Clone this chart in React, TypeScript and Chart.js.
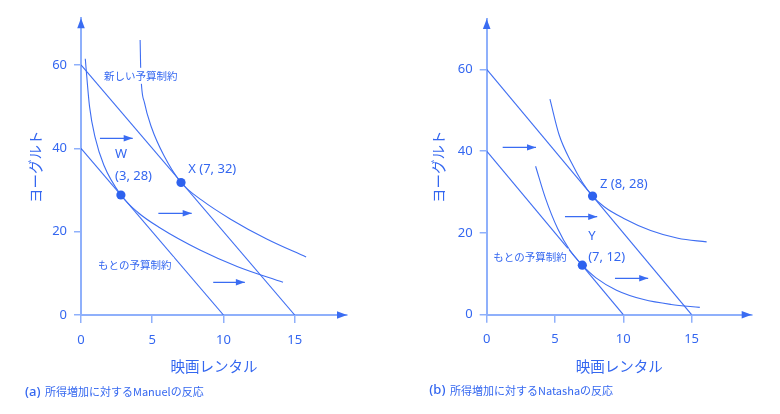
import React, { useEffect, useRef } from "react";
import { Chart, registerables } from "chart.js";

Chart.register(...registerables);

// ---------- shared axis data ----------
const xTickValues = [0, 5, 10, 15];
const yTickValues = [0, 20, 40, 60];
const xAxisTitle = "映画レンタル";
const yAxisTitle = "ヨーグルト";

// ---------- panel (a): Manuel ----------
const aOriginalBudget = [{ x: 0, y: 40 }, { x: 10, y: 0 }];
const aNewBudget = [{ x: 0, y: 60 }, { x: 15, y: 0 }];
const aCurveW = [
  { x: 0.3, y: 61.5 }, { x: 0.6, y: 50 }, { x: 1.0, y: 42.5 }, { x: 1.6, y: 36 },
  { x: 2.8, y: 28.8 }, { x: 4.0, y: 24.6 }, { x: 5.5, y: 21 }, { x: 8.35, y: 15.6 },
  { x: 11, y: 11.6 }, { x: 14.18, y: 7.85 },
];
const aCurveX = [
  { x: 4.15, y: 66 }, { x: 4.2, y: 58 }, { x: 4.45, y: 51 }, { x: 4.95, y: 45 },
  { x: 5.8, y: 38.4 }, { x: 7.02, y: 31.8 }, { x: 8.5, y: 27.5 }, { x: 10.5, y: 23 },
  { x: 13, y: 18.3 }, { x: 15.8, y: 13.9 },
];
const aPoints = [{ x: 2.8, y: 28.8 }, { x: 7.02, y: 31.8 }];
const aShiftArrows = [
  [{ x: 1.33, y: 42.4 }, { x: 3.63, y: 42.4 }],
  [{ x: 5.43, y: 24.4 }, { x: 7.77, y: 24.4 }],
  [{ x: 9.28, y: 7.85 }, { x: 11.5, y: 7.85 }],
];
const aLabels = [
  { text: "新しい予算制約", x: 1.61, y: 57.4, kind: "budget" },
  { text: "もとの予算制約", x: 1.19, y: 12.0, kind: "budget" },
  { text: "W", x: 2.39, y: 38.5, kind: "point" },
  { text: "(3, 28)", x: 2.39, y: 33.4, kind: "point" },
  { text: "X (7, 32)", x: 7.53, y: 35.0, kind: "point" },
];
const aCaptionTag = "(a)";
const aCaptionText = "所得増加に対するManuelの反応";

// ---------- panel (b): Natasha ----------
const bOriginalBudget = [{ x: 0, y: 40 }, { x: 10, y: 0 }];
const bNewBudget = [{ x: 0, y: 60 }, { x: 15, y: 0 }];
const bCurveY = [
  { x: 3.58, y: 36.3 }, { x: 4.3, y: 28.5 }, { x: 5.2, y: 21 }, { x: 6.1, y: 15.7 },
  { x: 7.0, y: 12.1 }, { x: 8.0, y: 9.0 }, { x: 9.5, y: 6.0 }, { x: 11.5, y: 3.7 },
  { x: 13.5, y: 2.5 }, { x: 15.6, y: 1.8 },
];
const bCurveZ = [
  { x: 4.63, y: 52.7 }, { x: 5.3, y: 44 }, { x: 6.2, y: 37.2 }, { x: 7.0, y: 32.4 },
  { x: 7.75, y: 29.0 }, { x: 8.6, y: 26.4 }, { x: 10, y: 23.6 }, { x: 12, y: 20.6 },
  { x: 14, y: 18.7 }, { x: 16.1, y: 17.8 },
];
const bPoints = [{ x: 7.75, y: 29.0 }, { x: 7.0, y: 12.1 }];
const bShiftArrows = [
  [{ x: 1.17, y: 40.9 }, { x: 3.61, y: 40.9 }],
  [{ x: 5.73, y: 23.96 }, { x: 8.09, y: 23.96 }],
  [{ x: 9.39, y: 8.9 }, { x: 11.82, y: 8.9 }],
];
const bLabels = [
  { text: "Z (8, 28)", x: 8.29, y: 32.0, kind: "point" },
  { text: "Y", x: 7.43, y: 19.07, kind: "point" },
  { text: "(7, 12)", x: 7.43, y: 14.0, kind: "point" },
  { text: "もとの予算制約", x: 0.48, y: 14.2, kind: "budget" },
];
const bCaptionTag = "(b)";
const bCaptionText = "所得増加に対するNatashaの反応";

// ---------- styles ----------
const TEXT = "#3467f0";
const LINE = "#3f6ef2";
const AXIS = "#8fb0fb";
const ARROW = "#3a6cf2";
const DOT = "#2e62ee";
const LATIN = "'Noto Sans', 'Noto Sans CJK JP', sans-serif";
const CJK = "'Noto Sans CJK JP', 'Noto Sans', sans-serif";

const panels = [
  {
    originalBudget: aOriginalBudget, newBudget: aNewBudget, curveLow: aCurveW, curveHigh: aCurveX,
    points: aPoints, arrows: aShiftArrows, labels: aLabels, tag: aCaptionTag, caption: aCaptionText,
    layout: { padTop: 18.3, padRight: 43, yAxisWidth: 81, xAxisHeight: 99, xMax: 18.67, yMax: 71.2, yTitlePad: 26.3, tagX: 25, capX: 45, capY: 392 },
  },
  {
    originalBudget: bOriginalBudget, newBudget: bNewBudget, curveLow: bCurveY, curveHigh: bCurveZ,
    points: bPoints, arrows: bShiftArrows, labels: bLabels, tag: bCaptionTag, caption: bCaptionText,
    layout: { padTop: 19, padRight: 28.3, yAxisWidth: 96.7, xAxisHeight: 99.3, xMax: 19.4, yMax: 72.3, yTitlePad: 39.3, tagX: 39.3, capX: 60, capY: 390.7 },
  },
];

function drawHead(ctx: CanvasRenderingContext2D, x0: number, y0: number, x1: number, y1: number, len: number, half: number, color: string) {
  const ang = Math.atan2(y1 - y0, x1 - x0);
  const bx = x1 - len * Math.cos(ang);
  const by = y1 - len * Math.sin(ang);
  const px = -Math.sin(ang) * half;
  const py = Math.cos(ang) * half;
  ctx.beginPath();
  ctx.moveTo(x1, y1);
  ctx.lineTo(bx + px, by + py);
  ctx.lineTo(bx - px, by - py);
  ctx.closePath();
  ctx.fillStyle = color;
  ctx.fill();
}

function makeOverlay(panel: any) {
  return {
    id: "overlay",
    afterDatasetsDraw(chart: any) {
      const ctx: CanvasRenderingContext2D = chart.ctx;
      const xs = chart.scales.x;
      const ys = chart.scales.y;
      ctx.save();
      chart.data.datasets.forEach((ds: any, i: number) => {
        if (ds.label !== "shift") return;
        const meta = chart.getDatasetMeta(i);
        const a = meta.data[0];
        const b = meta.data[meta.data.length - 1];
        drawHead(ctx, a.x, a.y, b.x, b.y, 9, 3.2, ARROW);
      });
      panel.labels.forEach((l: any) => {
        const px = xs.getPixelForValue(l.x);
        const py = ys.getPixelForValue(l.y);
        ctx.textAlign = "left";
        ctx.textBaseline = "middle";
        if (l.kind === "budget") {
          ctx.font = `10.5px ${CJK}`;
          const w = ctx.measureText(l.text).width;
          ctx.fillStyle = "#ffffff";
          ctx.fillRect(px - 2, py - 8, w + 4, 16);
        } else {
          ctx.font = `13px ${LATIN}`;
        }
        ctx.fillStyle = TEXT;
        ctx.fillText(l.text, px, py);
      });
      ctx.restore();
    },
    afterDraw(chart: any) {
      const ctx: CanvasRenderingContext2D = chart.ctx;
      const { left, right, top, bottom } = chart.chartArea;
      ctx.save();
      drawHead(ctx, left, bottom, right, bottom, 10, 3.8, ARROW);
      drawHead(ctx, left, bottom, left, top, 10, 3.8, ARROW);
      const L = panel.layout;
      ctx.textAlign = "left";
      ctx.textBaseline = "middle";
      ctx.fillStyle = TEXT;
      ctx.font = `500 13px ${LATIN}`;
      ctx.fillText(panel.tag, L.tagX, L.capY);
      ctx.font = `11px ${CJK}`;
      ctx.fillText(panel.caption, L.capX, L.capY);
      ctx.restore();
    },
  };
}

function buildConfig(panel: any): any {
  const L = panel.layout;
  const lineDs = (data: any[], extra: any = {}) => ({
    data,
    showLine: true,
    borderColor: LINE,
    borderWidth: 1.1,
    pointRadius: 0,
    pointHoverRadius: 0,
    fill: false,
    ...extra,
  });
  return {
    type: "scatter",
    data: {
      datasets: [
        {
          label: "points",
          data: panel.points,
          showLine: false,
          pointRadius: 4.6,
          pointBackgroundColor: DOT,
          pointBorderColor: DOT,
          pointBorderWidth: 0,
        },
        lineDs(panel.originalBudget),
        lineDs(panel.newBudget),
        lineDs(panel.curveLow, { cubicInterpolationMode: "monotone" }),
        lineDs(panel.curveHigh, { cubicInterpolationMode: "monotone" }),
        ...panel.arrows.map((a: any[]) => lineDs(a, { label: "shift", borderColor: ARROW, borderWidth: 1.3 })),
      ],
    },
    options: {
      responsive: false,
      animation: false,
      events: [],
      layout: { padding: { top: L.padTop, right: L.padRight, left: 0, bottom: 0 } },
      plugins: { legend: { display: false }, tooltip: { enabled: false }, title: { display: false } },
      scales: {
        x: {
          type: "linear",
          min: 0,
          max: L.xMax,
          afterBuildTicks: (sc: any) => { sc.ticks = xTickValues.map((v) => ({ value: v })); },
          afterFit: (sc: any) => { sc.height = L.xAxisHeight; },
          ticks: { color: TEXT, font: { family: LATIN, size: 13 }, padding: 9, maxRotation: 0, autoSkip: false, includeBounds: false },
          grid: { display: true, drawOnChartArea: false, drawTicks: true, tickLength: 8, color: AXIS, lineWidth: 1.5 },
          border: { display: true, color: AXIS, width: 2 },
          title: { display: true, text: xAxisTitle, color: TEXT, font: { family: CJK, size: 14.5 }, padding: { top: 0, bottom: 38.6 } },
        },
        y: {
          type: "linear",
          min: 0,
          max: L.yMax,
          afterBuildTicks: (sc: any) => { sc.ticks = yTickValues.map((v) => ({ value: v })); },
          afterFit: (sc: any) => { sc.width = L.yAxisWidth; },
          ticks: { color: TEXT, font: { family: LATIN, size: 13 }, padding: 7, autoSkip: false, includeBounds: false },
          grid: { display: true, drawOnChartArea: false, drawTicks: true, tickLength: 7, color: AXIS, lineWidth: 1.5 },
          border: { display: true, color: AXIS, width: 2 },
          title: { display: true, text: yAxisTitle, color: TEXT, font: { family: CJK, size: 14.5 }, padding: { top: L.yTitlePad, bottom: 0 } },
        },
      },
    },
    plugins: [makeOverlay(panel)],
  };
}

function Panel({ panel, left }: { panel: any; left: number }) {
  const ref = useRef<HTMLCanvasElement>(null);
  useEffect(() => {
    const chart = new Chart(ref.current as HTMLCanvasElement, buildConfig(panel));
    return () => chart.destroy();
  }, [panel]);
  return (
    <canvas
      ref={ref}
      width={390}
      height={414}
      style={{ position: "absolute", left, top: 0, width: 390, height: 414 }}
    />
  );
}

export default function App() {
  return (
    <div style={{ position: "fixed", left: 0, top: 0, width: 780, height: 414, background: "#ffffff", overflow: "hidden" }}>
      <Panel panel={panels[0]} left={0} />
      <Panel panel={panels[1]} left={390} />
    </div>
  );
}
